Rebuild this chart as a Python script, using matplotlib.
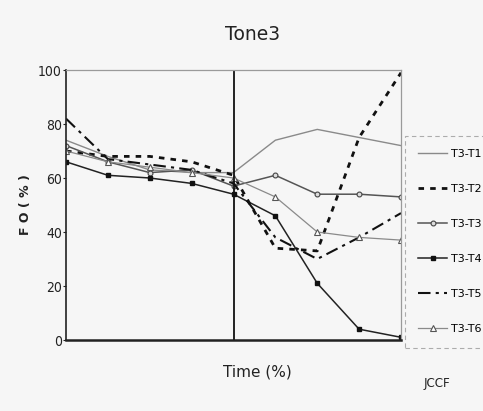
import matplotlib
matplotlib.use("Agg")
import matplotlib.pyplot as plt

# Data (time %, F0 %)
time_pct = [0, 12.5, 25, 37.5, 50, 62.5, 75, 87.5, 100]
series_names = ["T3-T1", "T3-T2", "T3-T3", "T3-T4", "T3-T5", "T3-T6"]
t3_t1 = [74, 68, 63, 62, 62, 74, 78, 75, 72]
t3_t2 = [70, 68, 68, 66, 61, 34, 33, 75, 99]
t3_t3 = [72, 66, 62, 63, 57, 61, 54, 54, 53]
t3_t4 = [66, 61, 60, 58, 54, 46, 21, 4, 1]
t3_t5 = [82, 67, 65, 63, 58, 38, 30, 38, 47]
t3_t6 = [70, 66, 64, 62, 60, 53, 40, 38, 37]
y_ticks = [0, 20, 40, 60, 80, 100]
midpoint = 50

bg = "#f6f6f6"
fig = plt.figure(figsize=(4.83, 4.11), dpi=100, facecolor=bg)
ax = fig.add_axes([66/483, 1-340/411, (401-66)/483, (340-70)/411], facecolor=bg)

styles = [
    dict(color="#8a8a8a", lw=1.0, ls="-"),
    dict(color="#111111", lw=2.0, ls=(0, (2, 2.2))),
    dict(color="#555555", lw=1.1, ls="-", marker="o", ms=3.5, mfc="#dddddd", mec="#444444", mew=0.8),
    dict(color="#222222", lw=1.1, ls="-", marker="s", ms=3, mfc="#111111", mec="#111111"),
    dict(color="#111111", lw=1.5, ls=(0, (6, 2.5, 1.5, 2.5))),
    dict(color="#8a8a8a", lw=0.9, ls="-", marker="^", ms=4, mfc="white", mec="#555555", mew=0.8),
]
data = [t3_t1, t3_t2, t3_t3, t3_t4, t3_t5, t3_t6]
handles = []
for name, vals, st in zip(series_names, data, styles):
    h, = ax.plot(time_pct, vals, label=name, **st)
    handles.append(h)

ax.axvline(midpoint, ymin=0, ymax=1, color="#111111", lw=1.3)

ax.set_xlim(0, 100)
ax.set_ylim(0, 100)
ax.set_xticks([])
ax.set_yticks(y_ticks)
ax.set_yticklabels([str(v) for v in y_ticks], fontsize=10, fontstretch="condensed", color="#222222")
ax.tick_params(axis="y", length=2, width=0.8, pad=1, colors="#222222")

for s in ["top", "right"]:
    ax.spines[s].set_color("#9a9a9a")
    ax.spines[s].set_linewidth(0.9)
ax.spines["left"].set_color("#222222")
ax.spines["left"].set_linewidth(1.2)
ax.spines["bottom"].set_color("#222222")
ax.spines["bottom"].set_linewidth(1.8)

fig.text(253/483, 1-35/411, "Tone3", ha="center", va="center", fontsize=13.5, color="#222222")
fig.text(257/483, 1-372/411, "Time (%)", ha="center", va="center", fontsize=11, color="#222222")
fig.text(26/483, 1-205/411, "F O ( % )", ha="center", va="center", rotation=90,
         fontsize=9, fontweight="bold", color="#222222")
fig.text(437/483, 1-383/411, "JCCF", ha="center", va="center", fontsize=9.5, color="#222222",
         fontstretch="condensed")

leg = fig.legend(handles=handles, loc="upper left", bbox_to_anchor=(405/483, 1-136/411),
                 fontsize=8, labelspacing=2.25, handlelength=2.6, handletextpad=0.3,
                 frameon=True, fancybox=False, borderpad=1.2, borderaxespad=0)
leg.get_frame().set_edgecolor("#9a9a9a")
leg.get_frame().set_linestyle((0, (4, 3)))
leg.get_frame().set_facecolor(bg)
leg.get_frame().set_linewidth(0.8)

fig.savefig("out.png", dpi=100, facecolor=bg)
